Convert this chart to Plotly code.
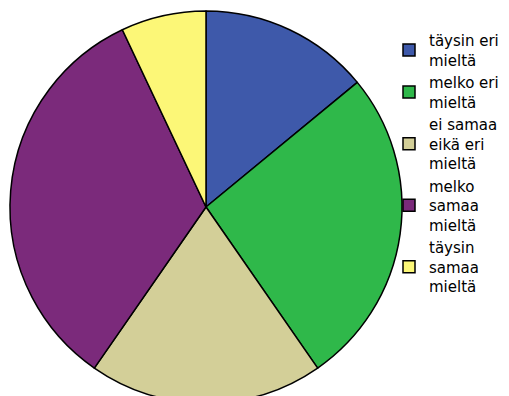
import plotly.graph_objects as go

# Response categories (Likert scale, Finnish)
labels = [
    "täysin eri<br>mieltä",
    "melko eri<br>mieltä",
    "ei samaa<br>eikä eri<br>mieltä",
    "melko<br>samaa<br>mieltä",
    "täysin<br>samaa<br>mieltä",
]
# Number of respondents per category
counts = [8, 15, 11, 19, 4]
colors = ["#3e59aa", "#2fb84a", "#d3cf98", "#7b2a7b", "#fcf777"]

W, H = 509, 420

fig = go.Figure(
    go.Pie(
        labels=labels,
        values=counts,
        sort=False,
        direction="clockwise",
        rotation=0,
        textinfo="none",
        hoverinfo="label+value+percent",
        marker=dict(colors=colors, line=dict(color="#000000", width=1.5)),
        domain=dict(x=[10 / W, 402 / W], y=[1 - 403 / H, 1 - 11 / H]),
    )
)

fig.update_layout(
    width=W,
    height=H,
    margin=dict(l=0, r=0, t=0, b=0),
    paper_bgcolor="white",
    plot_bgcolor="white",
    font=dict(family="DejaVu Sans, sans-serif", size=15, color="#000000"),
    legend=dict(
        x=389 / W,
        y=1 - 24 / H,
        xanchor="left",
        yanchor="top",
        bgcolor="rgba(0,0,0,0)",
        tracegroupgap=0,
        itemwidth=30,
    ),
)

fig.write_html("out.html", post_script="document.body.style.overflow='hidden';document.body.style.margin='0';")
